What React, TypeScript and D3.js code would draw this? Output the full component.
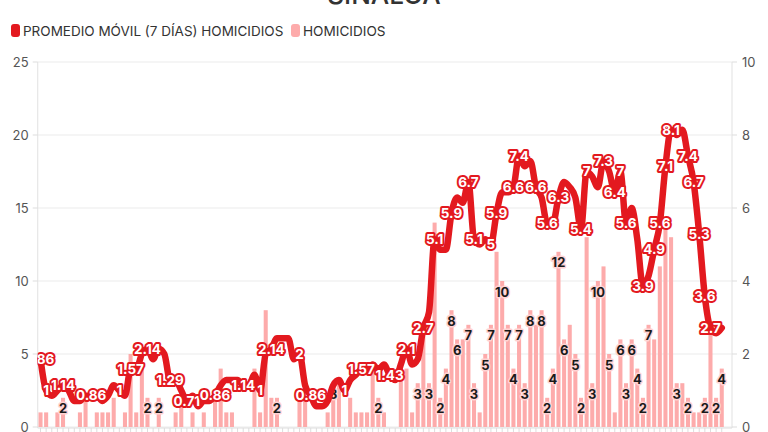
import React from "react";
import * as d3 from "d3";

// Daily homicides (bars, left axis)
const homicidios: number[] = [
  1, 1, 0, 1, 2, 0, 0, 1, 2, 0, 1, 1, 1, 2, 0, 1, 5, 1, 4, 2,
  0, 2, 0, 0, 1, 2, 0, 1, 0, 1, 0, 2, 4, 1, 1, 0, 0, 0, 4, 1,
  8, 2, 2, 0, 0, 0, 2, 2, 0, 0, 0, 1, 3, 3, 0, 2, 1, 1, 1, 4,
  2, 1, 0, 0, 4, 4, 1, 3, 7, 3, 14, 2, 4, 8, 6, 6, 7, 3, 1, 5,
  7, 12, 10, 7, 4, 7, 3, 8, 7, 8, 2, 4, 12, 6, 7, 5, 2, 13, 3, 10,
  11, 5, 1, 6, 3, 6, 4, 2, 7, 6, 11, 14, 13, 3, 3, 2, 1, 1, 2, 7,
  2, 4,
];
// Six days before the first bar (only used for the 7-day average)
const previos: number[] = [7, 1, 0, 1, 1, 2];

// Indices with value labels
const barLabelIdx: number[] = [
  4, 19, 21, 42, 52, 60, 67, 69, 71, 72, 73, 74, 76, 77, 79, 80, 82, 83, 84, 85,
  86, 87, 89, 90, 91, 92, 93, 95, 96, 98, 99, 101, 103, 104, 105, 106, 107, 108,
  113, 115, 118, 120, 121,
];
const maLabelIdx: number[] = [
  0, 1, 4, 9, 14, 16, 19, 23, 26, 31, 36, 39, 41, 46, 48, 54, 57, 62, 65, 68,
  70, 73, 76, 77, 80, 81, 84, 85, 88, 90, 92, 96, 97, 100, 102, 103, 104, 107,
  109, 110, 111, 112, 115, 116, 117, 118, 119,
];
const maLabelText: string[] = [
  "1.86", "1", "1.14", "0.86", "1", "1.57", "2.14", "1.29", "0.71", "0.86", "1.14", "1", "2.14", "2", "0.86", "1", "1.57", "1.43", "2.1", "2.7",
  "5.1", "5.9", "6.7", "5.1", "5", "5.9", "6.6", "7.4", "6.6", "5.6", "6.3", "5.4", "7", "7.3", "6.4", "7", "5.6", "3.9",
  "4.9", "5.6", "7.1", "8.1", "7.4", "6.7", "5.3", "3.6", "2.7",
];
const leftTicks: number[] = [0, 5, 10, 15, 20, 25];
const rightTicks: number[] = [0, 2, 4, 6, 8, 10];
const titulo = "SINALOA";
const serieMA = "PROMEDIO MÓVIL (7 DÍAS) HOMICIDIOS";
const serieH = "HOMICIDIOS";

const W = 768;
const H = 432;
const FONT = "Inter, 'Libre Franklin', Roboto, sans-serif";
const RED = "#e3191f";
const PINK = "#fdabab";

export default function App() {
  const n = homicidios.length;
  const idx = d3.range(n);
  const all = [...previos, ...homicidios];
  const ma = idx.map((i) => d3.mean(all.slice(i, i + 7)) as number);

  const plotL = 37.7;
  const plotR = 732;
  const yTop = 62;
  const yBot = 427;

  const x = d3
    .scaleBand<number>()
    .domain(idx)
    .range([plotL, plotL + n * 5.63])
    .paddingInner(0.28)
    .paddingOuter(0.14);
  const yL = d3.scaleLinear().domain([0, 25]).range([yBot, yTop]);
  const yR = d3.scaleLinear().domain([0, 10]).range([yBot, yTop]);
  const cx = (i: number) => (x(i) as number) + x.bandwidth() / 2;

  const line = d3
    .line<number>()
    .x((i) => cx(i))
    .y((i) => yR(ma[i]))
    .curve(d3.curveMonotoneX);

  return (
    <svg
      width={W}
      height={H}
      style={{ position: "absolute", left: 0, top: 0, background: "#fff" }}
      fontFamily={FONT}
    >
      <defs>
        <clipPath id="plotclip">
          <rect x={plotL} y={0} width={plotR - plotL} height={H} />
        </clipPath>
      </defs>
      <text x={384} y={4} textAnchor="middle" fontSize={26} fill="#333" fontWeight={500}>
        {titulo}
      </text>
      {/* legend */}
      <rect x={11} y={24} width={9} height={13} rx={3} fill={RED} />
      <text x={23} y={36} fontSize={13.5} fill="#333">
        {serieMA}
      </text>
      <rect x={291} y={24} width={9} height={13} rx={3} fill={PINK} />
      <text x={303} y={36} fontSize={13.6} fill="#333">
        {serieH}
      </text>

      {/* grid */}
      {leftTicks.map((t) => (
        <line key={"g" + t} x1={plotL} x2={plotR} y1={yL(t)} y2={yL(t)} stroke="#ebebeb" strokeWidth={1} />
      ))}
      <line x1={plotL} x2={plotL} y1={yTop} y2={yBot + 1} stroke="#e6e6e6" strokeWidth={1.2} />
      <line x1={plotR} x2={plotR} y1={yTop} y2={yBot + 1} stroke="#e6e6e6" strokeWidth={1.2} />
      {leftTicks.map((t) => (
        <g key={"l" + t}>
          <line x1={plotL - 5} x2={plotL} y1={yL(t)} y2={yL(t)} stroke="#ddd" />
          <text x={plotL - 9} y={yL(t)} dy="0.35em" textAnchor="end" fontSize={13} fill="#555">
            {t}
          </text>
        </g>
      ))}
      {rightTicks.map((t) => (
        <g key={"r" + t}>
          <line x1={plotR} x2={plotR + 5} y1={yR(t)} y2={yR(t)} stroke="#ddd" />
          <text x={plotR + 10} y={yR(t)} dy="0.35em" textAnchor="start" fontSize={13} fill="#555">
            {t}
          </text>
        </g>
      ))}
      {/* x axis */}
      <line x1={plotL} x2={plotR} y1={yBot + 1} y2={yBot + 1} stroke="#ddd" />
      {idx.map((i) => (
        <line key={"t" + i} x1={cx(i)} x2={cx(i)} y1={yBot + 1} y2={yBot + 5} stroke="#ddd" />
      ))}

      {/* bars */}
      {idx.map((i) =>
        homicidios[i] > 0 ? (
          <rect
            key={"b" + i}
            x={x(i)}
            y={yL(homicidios[i])}
            width={x.bandwidth()}
            height={yBot - yL(homicidios[i])}
            fill={PINK}
          />
        ) : null
      )}
      {/* bar labels */}
      {barLabelIdx.map((i) => (
        <text
          key={"bl" + i}
          x={cx(i)}
          y={yL(homicidios[i]) + 11}
          dy="0.35em"
          textAnchor="middle"
          fontSize={13}
          fontWeight={700}
          fill="#1a1a1a"
          stroke="#ffd3d3"
          strokeWidth={3}
          paintOrder="stroke"
          strokeLinejoin="round"
        >
          {homicidios[i]}
        </text>
      ))}

      {/* moving average */}
      <path d={line(idx) || ""} fill="none" stroke={RED} strokeWidth={6.5} strokeLinejoin="round" strokeLinecap="round" />
      <g clipPath="url(#plotclip)">
        {maLabelIdx.map((i, k) => (
          <text
            key={"ml" + i}
            x={cx(i)}
            y={yR(ma[i])}
            dy="0.35em"
            textAnchor="middle"
            fontSize={13.5}
            fontWeight={700}
            fill="#fff"
            stroke={RED}
            strokeWidth={4}
            paintOrder="stroke"
            strokeLinejoin="round"
          >
            {maLabelText[k]}
          </text>
        ))}
      </g>
    </svg>
  );
}
